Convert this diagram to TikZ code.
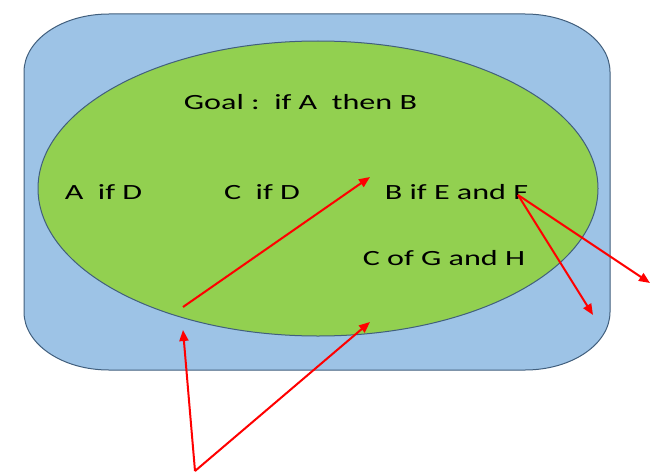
\documentclass[tikz,border=0pt]{standalone}
\usepackage{fontspec}
\setmainfont{Carlito}[FakeStretch=1.48]
\usetikzlibrary{arrows.meta,shapes.geometric}
\definecolor{boxblue}{RGB}{157,195,230}
\definecolor{fieldgreen}{RGB}{146,208,80}
\definecolor{rimgray}{RGB}{65,95,125}
\begin{document}
\begin{tikzpicture}[x=1pt, y=1pt,
                    rule/.style={font=\fontsize{21.7}{26}\selectfont, inner sep=0pt},
                    link/.style={draw=red, line width=2pt, -{Triangle[length=11pt,width=9pt]}}]
\useasboundingbox (0,0) rectangle (663,475);
\draw[fill=boxblue, draw=rimgray, line width=1pt]
    (24,163) -- (24,403) arc[start angle=180, end angle=90, x radius=85pt, y radius=58pt]
    -- (525,461) arc[start angle=90, end angle=0, x radius=85pt, y radius=58pt]
    -- (610,163) arc[start angle=0, end angle=-90, x radius=85pt, y radius=58pt]
    -- (109,105) arc[start angle=270, end angle=180, x radius=85pt, y radius=58pt] -- cycle;
\node[ellipse, fill=fieldgreen, draw=rimgray, line width=1pt,
      minimum width=560pt, minimum height=295pt, inner sep=0pt] (field) at (318,286.5) {};

\node[rule] (goal) at (300.5,373) {Goal :\ \ if A\ \ then B};
\node[rule] (aifd) at (103.5,283) {A\ \ if D};
\node[rule] (cifd) at (262,283) {C\ \ if D};
\node[rule] (bief) at (456.5,283) {B if E and F};
\node[rule] (cogh) at (444,217) {C of G and H};

\coordinate (start) at (183,168);
\coordinate (mid) at (370,298);
\coordinate (fork) at (518,280);
\coordinate (down) at (593,160);
\coordinate (out) at (650,192);
\coordinate (root) at (195,4);
\coordinate (rim) at (183,145);
\coordinate (base) at (370,153);

\draw[link] (start) -- (mid);
\draw[link] (fork) -- (down);
\draw[link] (fork) -- (out);
\draw[link] (root) -- (rim);
\draw[link] (root) -- (base);
\end{tikzpicture}
\end{document}
